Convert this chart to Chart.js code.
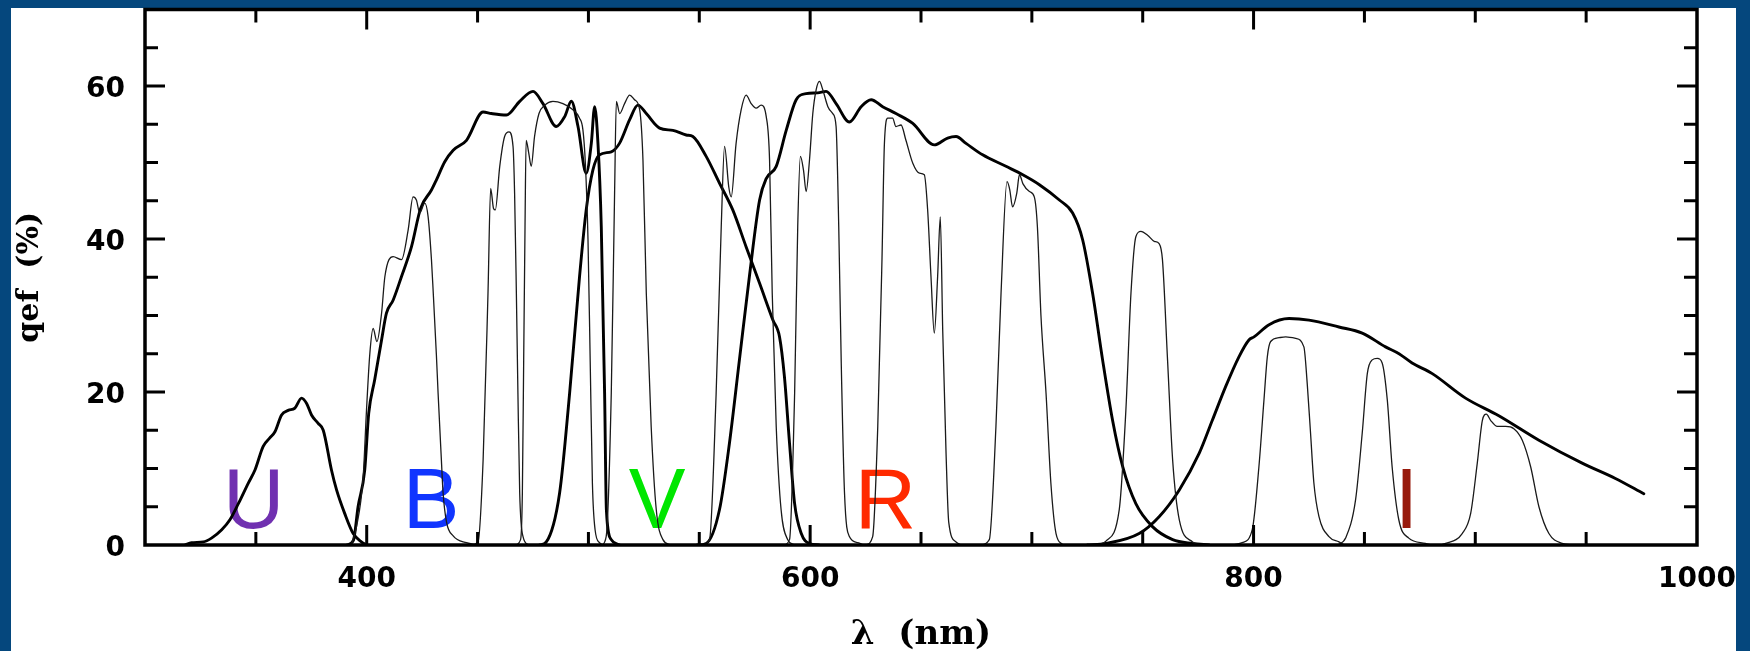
<!DOCTYPE html>
<html><head><meta charset="utf-8">
<script src="https://cdn.jsdelivr.net/npm/chart.js@4.4.0/dist/chart.umd.min.js"></script>
<style>
html,body{margin:0;padding:0;background:#05477D;overflow:hidden;width:1750px;height:651px;}
#wrap{position:absolute;left:0;top:0;width:1750px;height:680px;}
</style></head><body>
<div id="wrap"><canvas id="c" width="1750" height="680"></canvas></div>
<script>
// ---- broad-band filter curves (thick): [wavelength nm, qef %] ----
const uCurve = [[318,0],[321,0.3],[326.3,0.4],[330,0.9],[334.6,2],[338.3,3.3],[342.1,5.4],[346.6,8.1],[349.6,9.8],[353.3,12.9],[356.3,14],[358.6,14.8],[361.6,17],[364.6,17.6],[367.6,17.9],[370.6,19.2],[372.9,18.5],[375.1,17],[378.1,15.9],[380.4,15],[384.1,9.8],[386.4,7.2],[390.1,4.1],[393.9,1.5],[397.6,0.4],[400,0]];
const bCurve = [[391,0],[394,0.6],[396.1,5],[399.1,9.8],[400.9,17.2],[403.6,21.6],[406.7,26.8],[408.9,30.3],[411.9,32],[415.7,35.1],[420.2,39],[424.3,44],[429.2,46.4],[431.4,47.7],[435.2,50.1],[439,51.6],[445,52.9],[452.5,56.6],[456.2,56.4],[463,56.2],[469,58],[475,59.3],[479.5,57.7],[485.5,54.7],[489.3,56],[492.3,58],[495.3,54.7],[499,48.6],[501.3,52.5],[502.8,57.3],[504.3,52.5],[505.8,41.6],[507.3,19.8],[508.1,4.6],[510.3,0.7],[514,0]];
const vCurve = [[478,0],[481,0.4],[487,6.8],[491.5,19.8],[496,35.1],[499,43.8],[502,49],[505,51],[510.3,51.4],[514,52.5],[518.6,55.6],[522.3,57.5],[526.1,56.4],[532.1,54.5],[538.1,54.2],[544.1,53.6],[547.1,53.4],[553.1,50.8],[559.1,47.3],[565.1,43.8],[571.1,39],[577.2,34.2],[583.2,29.4],[586.2,27.2],[588.4,22],[590.7,13.3],[593,5.4],[596,1.5],[599.7,0.2],[604,0]];
const rCurve = [[549,0],[553.1,0.2],[559.1,4.6],[563.6,13.3],[568.1,24.2],[572.6,35.1],[577.2,45.1],[580.2,47.9],[584.7,49.5],[589.2,54.2],[593.7,58.2],[598.2,59],[603.4,59.1],[607.2,59.3],[611.7,57.7],[617.7,55.3],[623,57.3],[627.5,58.2],[632.7,57.3],[638.7,56.4],[646.3,55.1],[656,52.3],[662,53.2],[665.8,53.4],[670.3,52.5],[677.8,51],[688.3,49.5],[695.9,48.4],[703.4,47.1],[712.4,45.1],[718.4,43.4],[722.9,39.9],[727.4,32.9],[731.9,24.2],[736.4,16.3],[741,10.2],[746.9,5.4],[754.4,2.4],[763.5,0.7],[772.5,0.2],[780,0]];
const iCurve = [[725,0],[733.4,0.2],[748.4,1.5],[757.4,3.7],[766.5,7.2],[775.5,12],[781.4,16.3],[787.4,20.7],[793.4,24.6],[797.9,26.8],[800.2,27.2],[807,28.8],[816,29.6],[825,29.4],[838.5,28.5],[849,27.7],[859.5,25.9],[865.6,25],[871.5,23.8],[880.6,22.4],[895.6,19.2],[910.6,16.9],[928.7,13.7],[948.2,10.7],[963.2,8.7],[976,6.7]];

// ---- narrow-band filter curves (thin) ----
const nb1 = [[393,0],[395.4,2.4],[398.4,8.9],[399.9,17.6],[401.4,25],[402.9,28.3],[404.6,26.6],[406.7,30.3],[408.2,35.1],[411.9,37.7],[415.7,37.3],[418.7,41.2],[420.9,45.5],[422.4,45.1],[423.9,43.4],[426.2,44.7],[427.7,42.9],[429.2,37.3],[430,33],[431.4,25],[432.2,19.8],[433.7,11],[434.4,7],[436,3],[439,1.2],[445,0.3],[450,0]];
const nb2 = [[447,0],[450.2,0.4],[452.5,11.1],[454.7,32.9],[455.9,46.6],[457.2,44],[458,43.8],[460,49.5],[462.2,53.4],[464.2,54],[466,52.1],[466.7,46],[467.5,32.9],[468.2,19.8],[469,6.8],[470.5,1.1],[473,0]];
const nb3 = [[467,0],[469.4,0.7],[470.2,6.8],[470.8,24.2],[471.4,41.6],[471.9,52.9],[473.1,51.2],[474.2,49.5],[475.7,53.4],[477.7,56.4],[480.3,57.5],[484,58],[488.5,57.7],[493,56.9],[496,55.8],[497.5,54.3],[498.6,50],[499.8,40],[500.8,24],[501.8,8],[503,2],[505,0.3],[507,0]];
const nb4 = [[506,0],[508,1.1],[510.3,19.8],[511.8,46],[512.6,58],[514.1,56.4],[516.3,57.7],[518.6,58.8],[520.8,58.2],[523.1,56.9],[524.6,50.3],[526.1,32.9],[528.3,15.5],[530.6,4.6],[533.6,0.7],[537,0]];
const nb5 = [[551,0],[554.6,0.7],[557.6,19.8],[559.9,41.6],[561.4,52.1],[563.3,46.8],[564.4,45.5],[566.6,52.5],[568.9,56.9],[571.1,58.8],[573.4,57.7],[575.6,57.1],[577.9,57.5],[580.2,56],[581.7,50.3],[582.9,32.9],[584.7,15.5],[586.9,4.6],[589.9,0.7],[593,0]];
const nb6 = [[588,0],[590.7,0.7],[593,19.8],[594.4,41.6],[595.6,50.8],[597,49],[598.2,46.2],[599.7,50.3],[601.2,56.4],[602.7,59.5],[604.2,60.6],[605.7,59.5],[608,57.3],[610.2,56.4],[611.7,54.7],[612.9,41.6],[614,24.2],[615.5,6.8],[617.7,1.1],[621.5,0.3],[624,0]];
const nb7 = [[625,0],[628.2,1.1],[630.5,15.5],[632.4,37.3],[633.5,52.5],[635,55.8],[637.2,55.8],[638.7,54.7],[641,54.9],[643.2,52.9],[646.3,49.9],[649.3,48.6],[651.5,48.4],[653,43.8],[654.5,35.1],[656,27.7],[657.5,35.1],[658.7,42.9],[659.8,28],[661.3,12],[662.5,3],[665.8,0.4],[668,0]];
const nb8 = [[677,0],[680.8,0.7],[683.8,15.5],[686.1,32.9],[688.8,47.5],[690,46.5],[691.3,44.2],[693.2,46],[694.4,48.4],[696,47.2],[698.9,46.2],[701.1,45.5],[702.5,41.6],[704.1,30],[706.4,19.8],[708.6,8],[710.9,1.5],[714,0]];
const nb9 = [[730,0],[733.4,0.5],[739.4,4.6],[742.4,17.6],[744.7,32.9],[746.9,40.3],[749.2,41],[752.2,40.5],[755.2,39.7],[757.4,39.4],[758.9,37.3],[761.2,24.2],[763.5,11.1],[766.5,3.3],[772.5,0.4],[776,0]];
const nb10 = [[790,0],[794.9,0.3],[799.4,2],[802.4,10.2],[804.7,19],[806.2,24.6],[807.7,26.6],[811.5,27.1],[814.5,27.2],[819,27],[822.7,25.9],[824.2,21.1],[825.7,14.6],[827.2,8.1],[829.5,3.7],[834,1.1],[838.5,0.4],[841,0]];
const nb11 = [[838,0],[841.5,0.9],[846,5.9],[849,14.6],[851.3,22.4],[853.5,24.2],[855.8,24.4],[858,23.8],[860.3,19],[862.5,10.2],[865.5,3.3],[870,0.9],[877.5,0.2],[880,0]];
const nb12 = [[884,0],[886.6,0.2],[894.1,1.5],[897.9,4.1],[900.9,10.7],[903.2,16.3],[905,17.1],[906.9,16.3],[909.9,15.5],[913.7,15.5],[917.4,15.2],[921.2,13.7],[925,10.2],[928.7,5],[933.2,1.5],[939.2,0.2],[944,0]];

// ---- band letters ----
const bandLetters = ['U','B','V','R','I'];
const bandNm = [349, 429, 531, 634, 869];
const bandQe = 2.2;
const bandColors = ['#7030B0','#1035FF','#00E600','#FF2A00','#981A0C'];

// ---- axis ticks ----
const xTickLabels = [400, 600, 800, 1000];
const yTickLabels = [0, 20, 40, 60];

const thickCurves = [uCurve, bCurve, vCurve, rCurve, iCurve];
const thinCurves = [nb1, nb2, nb3, nb4, nb5, nb6, nb7, nb8, nb9, nb10, nb11, nb12];

function mk(curve, w, col) {
  return {
    data: curve.map(p => ({x: p[0], y: p[1]})),
    borderColor: col, borderWidth: w, pointRadius: 0, fill: false,
    cubicInterpolationMode: 'monotone', borderJoinStyle: 'round', borderCapStyle: 'round'
  };
}
const datasets = thinCurves.map(c => mk(c, 1.3, '#1a1a1a')).concat(thickCurves.map(c => mk(c, 2.9, '#000')));

const framePlugin = {
  id: 'frame',
  beforeDraw(chart) {
    const ctx = chart.ctx;
    ctx.save(); ctx.fillStyle = '#ffffff'; ctx.fillRect(11, 8, 1725, 700); ctx.restore();
  },
  beforeDatasetsDraw(chart) {
    const {ctx, scales: {x, y}} = chart;
    ctx.save();
    ctx.font = '85px "Liberation Sans", Arial, sans-serif';
    ctx.textAlign = 'center'; ctx.textBaseline = 'alphabetic';
    bandLetters.forEach((L, i) => {
      ctx.fillStyle = bandColors[i];
      ctx.fillText(L, x.getPixelForValue(bandNm[i]), y.getPixelForValue(bandQe));
    });
    ctx.restore();
  },
  afterDatasetsDraw(chart) {
    const {ctx, chartArea: a, scales: {x, y}} = chart;
    ctx.save();
    ctx.strokeStyle = '#000'; ctx.lineWidth = 3; ctx.lineCap = 'butt';
    x.ticks.forEach(t => {
      const v = t.value; if (v <= x.min || v >= x.max) return;
      const px = x.getPixelForValue(v); const L = xTickLabels.includes(v) ? 20 : 13;
      ctx.beginPath(); ctx.moveTo(px, a.bottom); ctx.lineTo(px, a.bottom - L);
      ctx.moveTo(px, a.top); ctx.lineTo(px, a.top + L); ctx.stroke();
    });
    y.ticks.forEach(t => {
      const v = t.value; if (v <= y.min || v >= y.max) return;
      const py = y.getPixelForValue(v); const L = yTickLabels.includes(v) ? 20 : 13;
      ctx.beginPath(); ctx.moveTo(a.left, py); ctx.lineTo(a.left + L, py);
      ctx.moveTo(a.right, py); ctx.lineTo(a.right - L, py); ctx.stroke();
    });
    ctx.lineWidth = 3.5;
    ctx.strokeRect(a.left, a.top, a.right - a.left, a.bottom - a.top);
    ctx.restore();
  }
};

new Chart(document.getElementById('c'), {
  type: 'line',
  data: {datasets},
  plugins: [framePlugin],
  options: {
    responsive: false, animation: false, devicePixelRatio: 1,
    layout: {padding: {left: 0, right: 53, top: 9.5, bottom: 0}},
    plugins: {legend: {display: false}, tooltip: {enabled: false}},
    scales: {
      x: {
        type: 'linear', min: 300, max: 1000,
        ticks: {stepSize: 50, autoSkip: false, maxRotation: 0, minRotation: 0, padding: 18, color: '#000',
          font: {family: 'DejaVu Sans', size: 28, weight: 'bold'},
          callback: v => xTickLabels.includes(v) ? String(v) : ''},
        grid: {display: false, drawTicks: false}, border: {display: false},
        title: {display: true, text: 'λ  (nm)', color: '#000',
          font: {family: 'DejaVu Serif', size: 34, weight: 'bold'}, padding: {top: 0, bottom: 24}},
        afterFit: s => { s.height = 135; s.paddingLeft = 0; s.paddingRight = 0; }
      },
      y: {
        type: 'linear', min: 0, max: 70,
        ticks: {stepSize: 5, autoSkip: false, padding: 20, labelOffset: 4, color: '#000',
          font: {family: 'DejaVu Sans', size: 28, weight: 'bold'},
          callback: v => yTickLabels.includes(v) ? String(v) : ''},
        grid: {display: false, drawTicks: false}, border: {display: false},
        title: {display: true, text: 'qef  (%)', color: '#000',
          font: {family: 'DejaVu Serif', size: 30, weight: 'bold'}, padding: {top: 12.5, bottom: 0}},
        afterFit: s => { s.width = 145; s.paddingTop = 0; s.paddingBottom = 0; }
      }
    }
  }
});
</script>
</body></html>
